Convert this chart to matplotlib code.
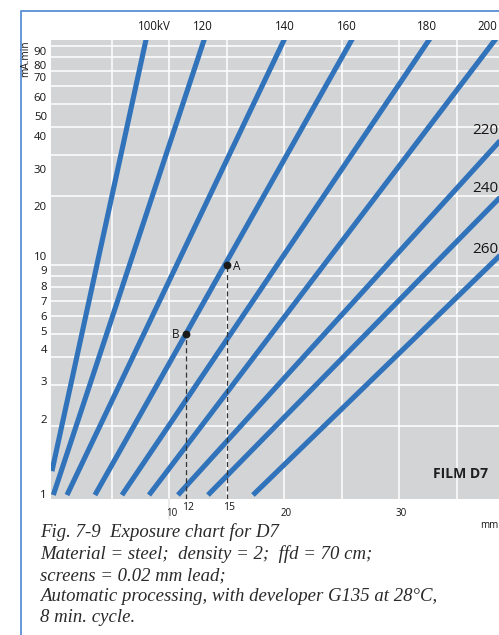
import numpy as np
import matplotlib
matplotlib.use("Agg")
import matplotlib.pyplot as plt
from matplotlib.lines import Line2D

# ---------------- data ----------------
kv_labels = ["100kV", "120", "140", "160", "180", "200", "220", "240", "260"]
thick_start = [-0.22, -0.10, 1.09, 3.52, 5.87, 8.22, 10.74, 13.35, 17.26]   # mm
exp_start = [1.27, 1, 1, 1, 1, 1, 1, 1, 1]                                  # mA.min
thick_end = [8.05, 13.15, 20.17, 26.09, 32.86, 38.63, 47.1, 52.6, 58.5]     # mm
exp_end = [100, 100, 100, 100, 100, 100, 100, 100, 100]                     # mA.min

y_tick_values = [1, 2, 3, 4, 5, 6, 7, 8, 9, 10, 20, 30, 40, 50, 60, 70, 80, 90]
y_tick_labels = [str(v) for v in y_tick_values]
# where each y label sits in the reference (mA.min units)
y_label_pos = [1.0, 2.10, 3.08, 4.27, 5.09, 5.91, 6.84, 7.98, 9.37, 10.8,
               17.7, 25.8, 35.8, 43.6, 53.0, 65.0, 72.6, 84.3]
x_grid = [5, 10, 15, 20, 25, 30, 35]
x_tick_values = [10, 20, 30]
x_tick_labels = ["10", "20", "30"]

point_names = ["A", "B"]
point_thick = [15.0, 11.4]
point_exp = [10, 5]
point_tick_labels = ["15", "12"]

caption = ["Fig. 7-9  Exposure chart for D7",
           "Material = steel;  density = 2;  ffd = 70 cm;",
           "screens = 0.02 mm lead;",
           "Automatic processing, with developer G135 at 28\u00b0C,",
           "8 min. cycle."]

# ---------------- styling ----------------
W, H = 499, 635
PT = 72 / 100.0          # points per pixel at dpi 100
BLUE = "#3173bb"
GRAY = "#d3d4d6"
TXT = "#151515"

fig = plt.figure(figsize=(W / 100, H / 100), dpi=100)
fig.patch.set_facecolor("white")

xmin, xmax = -0.3, 40.0
ymin, ymax = 0.961, 95.1
ax_left, ax_right, ax_top, ax_bot = 51, 514.5, 40, 499
ax = fig.add_axes([ax_left / W, 1 - ax_bot / H, (ax_right - ax_left) / W, (ax_bot - ax_top) / H])
ax.set_yscale("log")
ax.set_xlim(xmin, xmax)
ax.set_ylim(ymin, ymax)
ax.set_facecolor(GRAY)
for s in ax.spines.values():
    s.set_visible(False)
ax.set_xticks([])
ax.set_yticks([])
ax.minorticks_off()
ax.yaxis.set_minor_locator(matplotlib.ticker.NullLocator())

# grid
for v in y_tick_values[1:]:
    ax.axhline(v, color="white", lw=1.1, zorder=1)
for v in x_grid:
    ax.axvline(v, color="white", lw=1.1, zorder=1)
# grid line at 10 mm continues a little below the chart
ax.plot([10, 10], [ymin, 0.79], color="#e6e6e6", lw=1.1, clip_on=False, zorder=1)

# exposure lines
for xs, ys, xe, ye in zip(thick_start, exp_start, thick_end, exp_end):
    ax.plot([xs, xe], [ys, ye], color=BLUE, lw=3.7, solid_capstyle="butt", zorder=3)

def x_at_y(i, y):
    xs, ys, xe, ye = thick_start[i], exp_start[i], thick_end[i], exp_end[i]
    t = (np.log10(y) - np.log10(ys)) / (np.log10(ye) - np.log10(ys))
    return xs + (xe - xs) * t

def y_at_x(i, x):
    xs, ys, xe, ye = thick_start[i], exp_start[i], thick_end[i], exp_end[i]
    t = (x - xs) / (xe - xs)
    return 10 ** (np.log10(ys) + (np.log10(ye) - np.log10(ys)) * t)

# top labels
top_dx = [8, -1, 1, -5, -2, -8]
for i in range(6):
    xt = x_at_y(i, ymax)
    ax.annotate(kv_labels[i], xy=(xt, 1.0), xycoords=("data", "axes fraction"),
                xytext=(top_dx[i] * PT, 13 * PT), textcoords="offset points",
                ha="center", va="center", fontsize=8.3, color=TXT,
                family="Open Sans", annotation_clip=False)

# right-side labels
x_edge = (499 - 54.5) / 11.5
right_dy = [11, 10, 7]
for k, i in enumerate(range(6, 9)):
    yc = y_at_x(i, x_edge)
    ax.annotate(kv_labels[i], xy=(x_edge, yc), xycoords="data",
                xytext=(-27 * PT, right_dy[k] * PT), textcoords="offset points",
                ha="left", va="center", fontsize=11, color=TXT,
                family="Open Sans", annotation_clip=False, zorder=6)

# y tick labels
for lab, yp in zip(y_tick_labels, y_label_pos):
    ax.annotate(lab, xy=(0, yp), xycoords=("axes fraction", "data"),
                xytext=(-4 * PT, 0), textcoords="offset points",
                ha="right", va="center", fontsize=8.2, color=TXT,
                family="Open Sans", annotation_clip=False)

fig.text(25.5 / W, 1 - 59 / H, "mA.min", rotation=90, ha="center", va="center",
         fontsize=7.3, color=TXT, family="Open Sans")

# x tick labels
for v, lab in zip(x_tick_values, x_tick_labels):
    ax.annotate(lab, xy=(v, 0), xycoords=("data", "axes fraction"),
                xytext=(2 * PT, -14.5 * PT), textcoords="offset points",
                ha="center", va="center", fontsize=7, color=TXT,
                family="Open Sans", annotation_clip=False)
ax.annotate("mm", xy=(1, 0), xycoords="axes fraction",
            xytext=(-(ax_right - 489) * PT, -27 * PT), textcoords="offset points",
            ha="center", va="center", fontsize=7, color=TXT,
            family="Open Sans", annotation_clip=False)

# worked examples A and B
for name, xp, yp, lab in zip(point_names, point_thick, point_exp, point_tick_labels):
    ax.plot([xp, xp], [ymin, yp], color="#333333", lw=0.9, dashes=(4, 2.5), zorder=4)
    ax.plot([xp], [yp], "o", color="#1a1a1a", ms=4.6, zorder=5)
    if name == "A":
        ax.annotate(name, xy=(xp, yp), xytext=(6 * PT, -1 * PT), textcoords="offset points",
                    ha="left", va="center", fontsize=8.5, color=TXT, family="Open Sans")
    else:
        ax.annotate(name, xy=(xp, yp), xytext=(-6 * PT, 0), textcoords="offset points",
                    ha="right", va="center", fontsize=8.5, color=TXT, family="Open Sans")
    ax.annotate(lab, xy=(xp, 0), xycoords=("data", "axes fraction"),
                xytext=(2.5 * PT, -8 * PT), textcoords="offset points",
                ha="center", va="center", fontsize=7.5, color=TXT,
                family="Open Sans", annotation_clip=False)

ax.text((461 - ax_left) / (ax_right - ax_left), (ax_bot - 474) / (ax_bot - ax_top), "FILM D7",
        transform=ax.transAxes, ha="center", va="center", fontsize=10,
        fontweight="bold", color="#1e1e1e", family="Open Sans", zorder=6)

# caption
baselines = [537, 559, 580, 601, 622]
for line, b in zip(caption, baselines):
    fig.text(40 / W, 1 - b / H, line, ha="left", va="baseline", fontsize=13.5,
             style="italic", color="#2a2a2a", family="Liberation Serif")

# blue frame
fig.add_artist(Line2D([21 / W, 21 / W, 1.0], [0.0, 1 - 11 / H, 1 - 11 / H],
                      transform=fig.transFigure, color="#5a8fd6", lw=1.3))

fig.savefig("out.png", dpi=100)
